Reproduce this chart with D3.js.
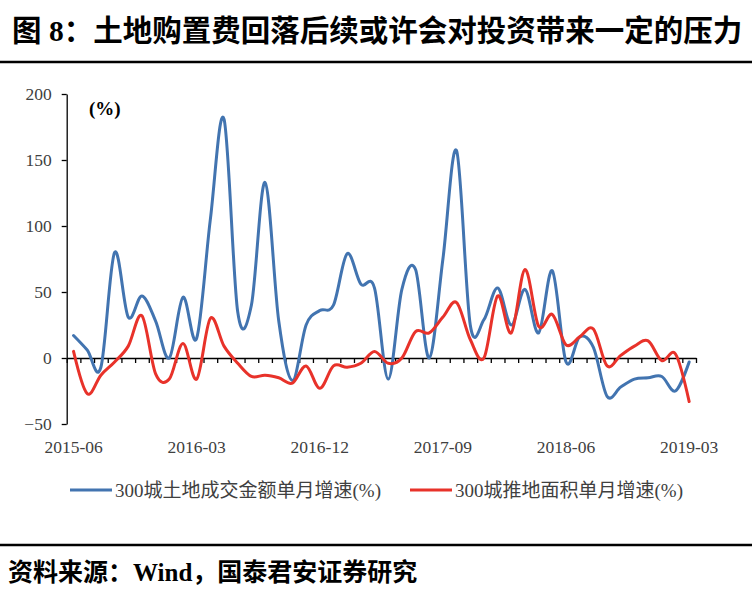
<!DOCTYPE html>
<html>
<head>
<meta charset="utf-8">
<script src="https://cdn.jsdelivr.net/npm/d3@7"></script>
<style>
  body { margin: 0; background: #fff; }
  svg { display: block; }
</style>
</head>
<body>
<div id="chart"></div>
<script>
// monthly categories 2015-06 .. 2019-03
const months = d3.timeMonth.range(new Date(2015, 5, 1), new Date(2019, 3, 1)).map(d3.timeFormat("%Y-%m"));
const tickLabels = ["2015-06", "2016-03", "2016-12", "2017-09", "2018-06", "2019-03"];
const yTicks = [-50, 0, 50, 100, 150, 200];

// 300城土地成交金额单月增速(%)
const landDeal = [17, 6, -7, 80, 31, 47, 28, 0, 46, 15, 105, 181, 35, 40, 133, 28, -17, 25, 36, 40,
  79, 56, 53, -16, 52, 67, 0, 75, 157, 25, 29, 53, 25, 52, 19, 66, -3, 16, 8, -29,
  -22, -16, -15, -14, -25, -3];
// 300城推地面积单月增速(%)
const landSupply = [5, -27, -13, -3, 9, 32, -12, -16, 11, -16, 30, 9, -4, -14, -13, -15, -19, -6, -23, -6,
  -7, -4, 5, -4, 0, 20, 19, 31, 42, 14, 0, 47, 19, 67, 24, 33, 10, 16, 22, -6,
  2, 9, 13, -2, 3, -33];

const seriesNames = ["300城土地成交金额单月增速(%)", "300城推地面积单月增速(%)"];
const seriesColors = ["#4274b0", "#e8322a"];

const width = 752, height = 594;
const serif = "'Liberation Serif', 'Times New Roman', 'Noto Sans CJK SC', serif";

const svg = d3.select("#chart").append("svg")
    .attr("width", width)
    .attr("height", height);

// title + rules
svg.append("text")
    .attr("x", 12).attr("y", 41)
    .attr("font-family", serif)
    .attr("font-weight", "bold")
    .attr("font-size", 29.5)
    .attr("fill", "#000")
    .text("图 8：土地购置费回落后续或许会对投资带来一定的压力");

svg.append("line").attr("x1", 0).attr("x2", width).attr("y1", 62).attr("y2", 62)
    .attr("stroke", "#000").attr("stroke-width", 2.5);
svg.append("line").attr("x1", 0).attr("x2", width).attr("y1", 545).attr("y2", 545)
    .attr("stroke", "#000").attr("stroke-width", 2.5);

svg.append("text")
    .attr("x", 8).attr("y", 581)
    .attr("font-family", serif)
    .attr("font-weight", "bold")
    .attr("font-size", 25)
    .attr("fill", "#000")
    .text("资料来源：Wind，国泰君安证券研究");

// plot area
const plot = { left: 66.7, right: 696, top: 94, bottom: 424 };

const x = d3.scaleBand().domain(months).range([plot.left, plot.right]).paddingInner(0).paddingOuter(0);
const xc = (m) => x(m) + x.bandwidth() / 2;
const xEdge = d3.scaleLinear().domain([0, months.length]).range([plot.left, plot.right]);
const y = d3.scaleLinear().domain([-50, 200]).range([plot.bottom, plot.top]);

// y axis
const yAxis = svg.append("g")
    .attr("transform", "translate(" + plot.left + ",0)")
    .call(d3.axisLeft(y).tickValues(yTicks).tickSize(5).tickPadding(10).tickSizeOuter(0));
yAxis.select(".domain").attr("stroke", "#000").attr("stroke-width", 1.3);
yAxis.selectAll(".tick line").attr("stroke", "#000").attr("stroke-width", 1.3);
yAxis.selectAll(".tick text")
    .attr("font-family", serif)
    .attr("font-size", 17.5)
    .attr("fill", "#404040");

// x axis along zero, ticks between categories
const xAxis = svg.append("g")
    .attr("transform", "translate(0," + y(0) + ")")
    .call(d3.axisBottom(xEdge).tickValues(d3.range(months.length + 1)).tickSize(5).tickFormat("").tickSizeOuter(0));
xAxis.select(".domain").attr("stroke", "#000").attr("stroke-width", 1.3);
xAxis.selectAll(".tick line").attr("stroke", "#000").attr("stroke-width", 1.3);

svg.append("g").selectAll("text")
    .data(tickLabels)
    .join("text")
    .attr("x", d => xc(d))
    .attr("y", 453)
    .attr("text-anchor", "middle")
    .attr("font-family", serif)
    .attr("font-size", 17.5)
    .attr("fill", "#404040")
    .text(d => d);

svg.append("text")
    .attr("x", 89).attr("y", 115)
    .attr("font-family", serif)
    .attr("font-weight", "bold")
    .attr("font-size", 19)
    .attr("fill", "#000")
    .text("(%)");

// lines (Excel-like smoothing)
const line = d3.line()
    .curve(d3.curveCardinal.tension(0))
    .x((d, i) => xc(months[i]))
    .y(d => y(d));

[landDeal, landSupply].forEach((s, k) => {
    svg.append("path")
        .attr("d", line(s))
        .attr("fill", "none")
        .attr("stroke", seriesColors[k])
        .attr("stroke-width", 3)
        .attr("stroke-linejoin", "round")
        .attr("stroke-linecap", "round");
});

// legend
const legendX = [70, 410];
const legend = svg.append("g").selectAll("g")
    .data(seriesNames)
    .join("g")
    .attr("transform", (d, i) => "translate(" + legendX[i] + ",490)");
legend.append("line")
    .attr("x1", 0).attr("x2", 42)
    .attr("stroke", (d, i) => seriesColors[i])
    .attr("stroke-width", 3);
legend.append("text")
    .attr("x", 45).attr("y", 7)
    .attr("font-family", serif)
    .attr("font-size", 19)
    .attr("fill", "#404040")
    .text(d => d);
</script>
</body>
</html>
